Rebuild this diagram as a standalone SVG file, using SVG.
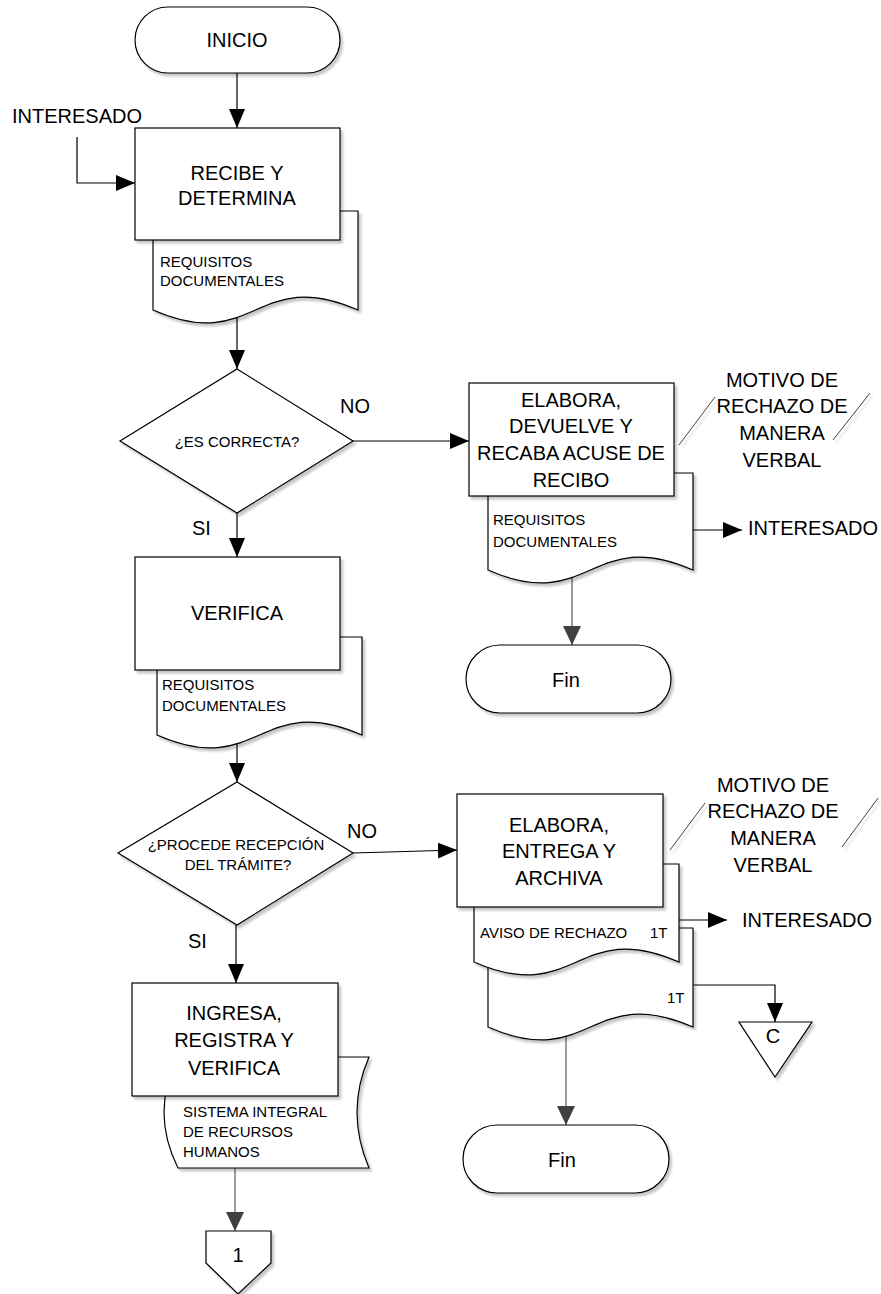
<svg xmlns="http://www.w3.org/2000/svg" width="881" height="1294" viewBox="0 0 881 1294">
<style>
.s{fill:#fff;stroke:#000;stroke-width:1.2;filter:url(#sh)}
.c{fill:none;stroke:#000;stroke-width:1.2}
.g{fill:none;stroke:#595959;stroke-width:1.2}
.an{fill:none;stroke:#404040;stroke-width:1;filter:url(#sh)}
text{font-family:"Liberation Sans",Arial,sans-serif;fill:#000}
.b{font-size:20px;text-anchor:middle}
.l{font-size:20px}
.m{font-size:15px}
.mc{font-size:15px;text-anchor:middle}
</style>
<defs>
<filter id="sh" x="-10%" y="-10%" width="130%" height="130%">
<feDropShadow dx="2.5" dy="3" stdDeviation="1.2" flood-color="#000" flood-opacity="0.22"/>
</filter>
<marker id="ab" markerUnits="userSpaceOnUse" markerWidth="20" markerHeight="16" refX="19" refY="8" orient="auto">
<path d="M0,0 L19,8 L0,16 Z" fill="#000"/>
</marker>
<marker id="ag" markerUnits="userSpaceOnUse" markerWidth="20" markerHeight="18" refX="19" refY="9" orient="auto">
<path d="M0,0 L19,9 L0,18 Z" fill="#404040"/>
</marker>
</defs>

<g id="connectors">
<path class="c" d="M237,73 V128" marker-end="url(#ab)"/>
<path class="c" d="M77,137 V183 H135" marker-end="url(#ab)"/>
<path class="c" d="M237,312 V369" marker-end="url(#ab)"/>
<path class="c" d="M353,441 H469" marker-end="url(#ab)"/>
<path class="c" d="M237,513 V557" marker-end="url(#ab)"/>
<path class="c" d="M237,740 V782" marker-end="url(#ab)"/>
<path class="c" d="M353,853 L457,850" marker-end="url(#ab)"/>
<path class="c" d="M236,925 V983" marker-end="url(#ab)"/>
<path class="g" d="M235,1165 V1231" marker-end="url(#ag)"/>
<path class="c" d="M693,530 H742" marker-end="url(#ab)"/>
<path class="g" d="M572,575 V645" marker-end="url(#ag)"/>
<path class="c" d="M679,920 H727" marker-end="url(#ab)"/>
<path class="c" d="M693,985 H775 V1022" marker-end="url(#ab)"/>
<path class="g" d="M566,1030 V1125" marker-end="url(#ag)"/>
</g>

<g id="inicio">
<rect class="s" x="135" y="7" width="205" height="66" rx="33"/>
<text class="b" x="237" y="47">INICIO</text>
</g>

<g id="interesado-in">
<text class="l" x="12" y="123">INTERESADO</text>
</g>

<g id="recibe">
<path class="s" d="M153,211 H358 V310 C255.5,265 255.5,355 153,310 Z"/>
<rect class="s" x="135" y="128" width="205" height="112"/>
<text class="b" x="237" y="180">RECIBE Y</text>
<text class="b" x="237" y="205">DETERMINA</text>
<text class="m" x="160" y="267">REQUISITOS</text>
<text class="m" x="160" y="286">DOCUMENTALES</text>
</g>

<g id="es-correcta">
<path class="s" d="M237,369 L353,441 L237,513 L120,441 Z"/>
<text class="mc" x="237" y="447">¿ES CORRECTA?</text>
<text class="l" x="340" y="413">NO</text>
<text class="l" x="192" y="535">SI</text>
</g>

<g id="verifica">
<path class="s" d="M157,637 H362 V735 C259.5,690 259.5,780 157,735 Z"/>
<rect class="s" x="135" y="557" width="205" height="113"/>
<text class="b" x="237" y="620">VERIFICA</text>
<text class="m" x="162" y="690">REQUISITOS</text>
<text class="m" x="162" y="711">DOCUMENTALES</text>
</g>

<g id="procede">
<path class="s" d="M237,782 L353,853 L237,925 L118,853 Z"/>
<text class="mc" x="236" y="850">¿PROCEDE RECEPCIÓN</text>
<text class="mc" x="238" y="870">DEL TRÁMITE?</text>
<text class="l" x="347" y="838">NO</text>
<text class="l" x="188" y="948">SI</text>
</g>

<g id="ingresa">
<path class="s" d="M178,1057 H369 Q345,1112 369,1168 H178 Q150,1112 178,1057 Z"/>
<rect class="s" x="132" y="983" width="206" height="113"/>
<text class="b" x="234" y="1020">INGRESA,</text>
<text class="b" x="234" y="1047">REGISTRA Y</text>
<text class="b" x="234" y="1075">VERIFICA</text>
<text class="m" x="183" y="1117">SISTEMA INTEGRAL</text>
<text class="m" x="183" y="1137">DE RECURSOS</text>
<text class="m" x="183" y="1157">HUMANOS</text>
</g>

<g id="conector-1">
<path class="s" d="M206,1231 H271 V1263 L238,1294 L206,1263 Z"/>
<text class="b" x="238" y="1262">1</text>
</g>

<g id="elabora-devuelve">
<path class="s" d="M488,473 H693 V570 C590.5,525 590.5,615 488,570 Z"/>
<rect class="s" x="469" y="383" width="205" height="113"/>
<text class="b" x="571" y="407">ELABORA,</text>
<text class="b" x="571" y="433">DEVUELVE Y</text>
<text class="b" x="571" y="460">RECABA ACUSE DE</text>
<text class="b" x="571" y="487">RECIBO</text>
<text class="m" x="493" y="525">REQUISITOS</text>
<text class="m" x="493" y="547">DOCUMENTALES</text>
</g>

<g id="motivo-1">
<path class="an" d="M679,445 L715,397 M833,440 L870,393"/>
<text class="b" x="782" y="387">MOTIVO DE</text>
<text class="b" x="782" y="413">RECHAZO DE</text>
<text class="b" x="782" y="440">MANERA</text>
<text class="b" x="782" y="467">VERBAL</text>
</g>

<g id="interesado-out-1">
<text class="l" x="748" y="535">INTERESADO</text>
</g>

<g id="fin-1">
<rect class="s" x="466" y="645" width="205" height="68" rx="34"/>
<text class="b" x="566" y="687">Fin</text>
</g>

<g id="elabora-entrega">
<path class="s" d="M488,928 H693 V1027 C590.5,982 590.5,1072 488,1027 Z"/>
<path class="s" d="M474,864 H679 V962 C576.5,917 576.5,1007 474,962 Z"/>
<rect class="s" x="457" y="794" width="206" height="113"/>
<text class="b" x="559" y="832">ELABORA,</text>
<text class="b" x="559" y="858">ENTREGA Y</text>
<text class="b" x="559" y="885">ARCHIVA</text>
<text class="m" x="480" y="938">AVISO DE RECHAZO</text>
<text class="m" x="650" y="938">1T</text>
<text class="m" x="667" y="1003">1T</text>
</g>

<g id="motivo-2">
<path class="an" d="M670,850 L705,803 M842,847 L878,798"/>
<text class="b" x="773" y="792">MOTIVO DE</text>
<text class="b" x="773" y="818">RECHAZO DE</text>
<text class="b" x="773" y="845">MANERA</text>
<text class="b" x="773" y="872">VERBAL</text>
</g>

<g id="interesado-out-2">
<text class="l" x="742" y="927">INTERESADO</text>
</g>

<g id="archivo-c">
<path class="s" d="M739,1022 H812 L775,1077 Z"/>
<text class="b" x="773" y="1043">C</text>
</g>

<g id="fin-2">
<rect class="s" x="463" y="1125" width="206" height="68" rx="34"/>
<text class="b" x="562" y="1167">Fin</text>
</g>
</svg>
